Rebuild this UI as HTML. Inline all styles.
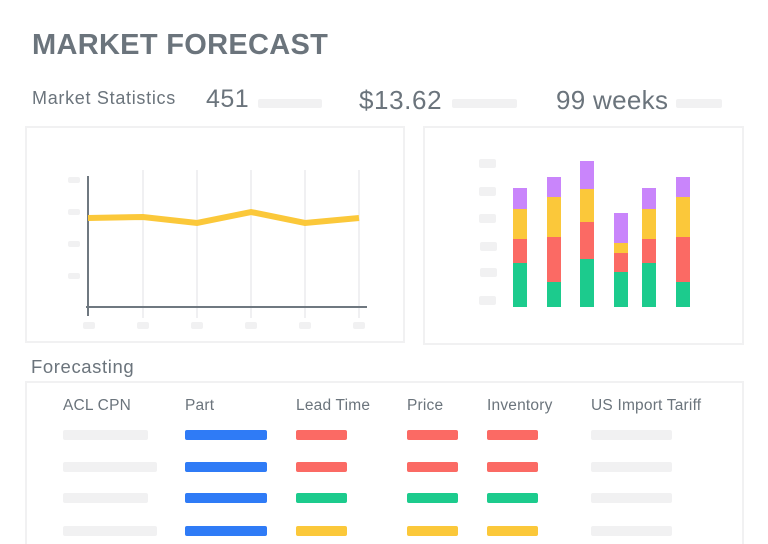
<!DOCTYPE html>
<html style="width:768px;height:544px;overflow:hidden"><head><style>
body{margin:0;width:768px;height:544px;background:#fff;overflow:hidden;font-family:"Liberation Sans",sans-serif;color:#6b747c;position:relative}
.a{position:absolute}
.g{position:absolute;background:#f1f1f2;border-radius:2px}
.b{position:absolute;height:10px;border-radius:2px}
.h{position:absolute;font-size:15.5px;top:397px;color:#6b747c;letter-spacing:0.2px}
</style></head><body>
<div class="a" style="left:32px;top:29px;font-size:29px;font-weight:bold;letter-spacing:0.3px">MARKET FORECAST</div>
<div class="a" style="left:32px;top:88px;font-size:18px;letter-spacing:0.7px">Market Statistics</div>
<div class="a" style="left:206px;top:85px;font-size:25px;letter-spacing:0.5px">451</div>
<div class="g" style="left:258px;top:99px;width:64px;height:9px"></div>
<div class="a" style="left:359px;top:85px;font-size:26px;letter-spacing:0.6px">$13.62</div>
<div class="g" style="left:452px;top:99px;width:65px;height:9px"></div>
<div class="a" style="left:556px;top:85px;font-size:26px;letter-spacing:0.3px">99 weeks</div>
<div class="g" style="left:676px;top:99px;width:46px;height:9px"></div>

<div class="a" style="left:25px;top:126px;width:380px;height:217px;border:2px solid #f1f1f2;box-sizing:border-box"></div>
<div class="a" style="left:423px;top:126px;width:321px;height:219px;border:2px solid #f1f1f2;box-sizing:border-box"></div>

<svg class="a" style="left:0;top:0" width="768" height="544">
<g stroke="#f0f0f2" stroke-width="2">
<line x1="143" y1="170" x2="143" y2="318"/><line x1="197" y1="170" x2="197" y2="318"/><line x1="251" y1="170" x2="251" y2="318"/><line x1="305" y1="170" x2="305" y2="318"/><line x1="359" y1="170" x2="359" y2="318"/>
</g>
<g fill="#f1f1f2">
<rect x="68" y="177" width="12" height="6" rx="2"/><rect x="68" y="209" width="12" height="6" rx="2"/><rect x="68" y="241" width="12" height="6" rx="2"/><rect x="68" y="273" width="12" height="6" rx="2"/>
<rect x="83" y="322" width="12" height="7" rx="2"/><rect x="137" y="322" width="12" height="7" rx="2"/><rect x="191" y="322" width="12" height="7" rx="2"/><rect x="245" y="322" width="12" height="7" rx="2"/><rect x="299" y="322" width="12" height="7" rx="2"/><rect x="353" y="322" width="12" height="7" rx="2"/>
</g>
<line x1="88" y1="176" x2="88" y2="316" stroke="#6f7880" stroke-width="2"/>
<line x1="86" y1="307" x2="367" y2="307" stroke="#6f7880" stroke-width="2"/>
<polyline points="88,218 143,217 197,223 251,212 305,223 359,218" fill="none" stroke="#fbc83a" stroke-width="6"/>
<g fill="#f1f1f2">
<rect x="479" y="159" width="17" height="9" rx="2"/><rect x="479" y="187" width="17" height="9" rx="2"/><rect x="479" y="214" width="17" height="9" rx="2"/><rect x="480" y="242" width="17" height="9" rx="2"/><rect x="480" y="268" width="17" height="9" rx="2"/><rect x="479" y="296" width="17" height="9" rx="2"/>
</g>
<g>
<rect x="513" y="188" width="14" height="21" fill="#c985fb"/><rect x="513" y="209" width="14" height="30" fill="#fbc83a"/><rect x="513" y="239" width="14" height="24" fill="#fb6a64"/><rect x="513" y="263" width="14" height="44" fill="#1ccb8d"/>
<rect x="547" y="177" width="14" height="20" fill="#c985fb"/><rect x="547" y="197" width="14" height="40" fill="#fbc83a"/><rect x="547" y="237" width="14" height="45" fill="#fb6a64"/><rect x="547" y="282" width="14" height="25" fill="#1ccb8d"/>
<rect x="580" y="161" width="14" height="28" fill="#c985fb"/><rect x="580" y="189" width="14" height="33" fill="#fbc83a"/><rect x="580" y="222" width="14" height="37" fill="#fb6a64"/><rect x="580" y="259" width="14" height="48" fill="#1ccb8d"/>
<rect x="614" y="213" width="14" height="30" fill="#c985fb"/><rect x="614" y="243" width="14" height="10" fill="#fbc83a"/><rect x="614" y="253" width="14" height="19" fill="#fb6a64"/><rect x="614" y="272" width="14" height="35" fill="#1ccb8d"/>
<rect x="642" y="188" width="14" height="21" fill="#c985fb"/><rect x="642" y="209" width="14" height="30" fill="#fbc83a"/><rect x="642" y="239" width="14" height="24" fill="#fb6a64"/><rect x="642" y="263" width="14" height="44" fill="#1ccb8d"/>
<rect x="676" y="177" width="14" height="20" fill="#c985fb"/><rect x="676" y="197" width="14" height="40" fill="#fbc83a"/><rect x="676" y="237" width="14" height="45" fill="#fb6a64"/><rect x="676" y="282" width="14" height="25" fill="#1ccb8d"/>
</g>
</svg>

<div class="a" style="left:31px;top:356px;font-size:18.5px;letter-spacing:0.6px">Forecasting</div>
<div class="a" style="left:25px;top:381px;width:719px;height:163px;border:2px solid #f1f1f2;border-bottom:none;box-sizing:border-box"></div>
<div class="h" style="left:63px">ACL CPN</div>
<div class="h" style="left:185px">Part</div>
<div class="h" style="left:296px">Lead Time</div>
<div class="h" style="left:407px">Price</div>
<div class="h" style="left:487px">Inventory</div>
<div class="h" style="left:591px">US Import Tariff</div>

<div class="g" style="left:63px;top:430px;width:85px;height:10px"></div>
<div class="g" style="left:63px;top:462px;width:94px;height:10px"></div>
<div class="g" style="left:63px;top:493px;width:85px;height:10px"></div>
<div class="g" style="left:63px;top:526px;width:94px;height:10px"></div>
<div class="g" style="left:591px;top:430px;width:81px;height:10px"></div>
<div class="g" style="left:591px;top:462px;width:81px;height:10px"></div>
<div class="g" style="left:591px;top:493px;width:81px;height:10px"></div>
<div class="g" style="left:591px;top:526px;width:81px;height:10px"></div>

<div class="b" style="left:185px;top:430px;width:82px;background:#2f7bf6"></div>
<div class="b" style="left:185px;top:462px;width:82px;background:#2f7bf6"></div>
<div class="b" style="left:185px;top:493px;width:82px;background:#2f7bf6"></div>
<div class="b" style="left:185px;top:526px;width:82px;background:#2f7bf6"></div>

<div class="b" style="left:296px;top:430px;width:51px;background:#fb6a64"></div>
<div class="b" style="left:407px;top:430px;width:51px;background:#fb6a64"></div>
<div class="b" style="left:487px;top:430px;width:51px;background:#fb6a64"></div>
<div class="b" style="left:296px;top:462px;width:51px;background:#fb6a64"></div>
<div class="b" style="left:407px;top:462px;width:51px;background:#fb6a64"></div>
<div class="b" style="left:487px;top:462px;width:51px;background:#fb6a64"></div>
<div class="b" style="left:296px;top:493px;width:51px;background:#1ccb8d"></div>
<div class="b" style="left:407px;top:493px;width:51px;background:#1ccb8d"></div>
<div class="b" style="left:487px;top:493px;width:51px;background:#1ccb8d"></div>
<div class="b" style="left:296px;top:526px;width:51px;background:#fbc83a"></div>
<div class="b" style="left:407px;top:526px;width:51px;background:#fbc83a"></div>
<div class="b" style="left:487px;top:526px;width:51px;background:#fbc83a"></div>
</body></html>
